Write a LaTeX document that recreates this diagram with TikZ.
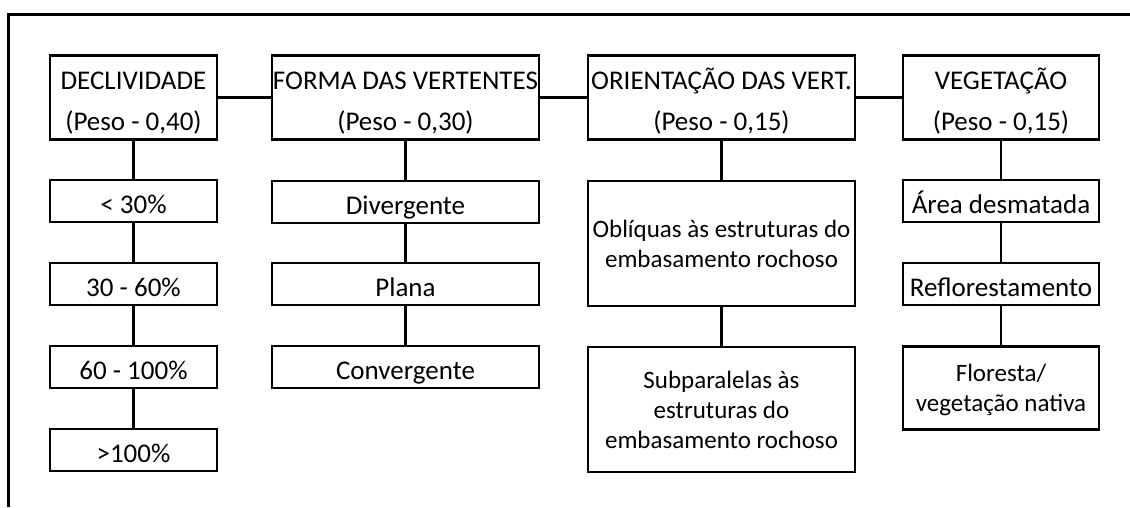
\documentclass[tikz,border=0pt]{standalone}
\usepackage{fontspec}
\setmainfont{Carlito}
\usetikzlibrary{positioning}

\begin{document}
\begin{tikzpicture}[x=1pt, y=-1pt,
  caixa/.style={draw, line width=2.2pt, align=center, inner sep=0pt,
                text height=26pt, text depth=2pt,
                font=\fontsize{27}{41}\selectfont},
  titulo/.style={caixa, minimum height=84pt, text height=67pt},
  item/.style={caixa, minimum height=42pt},
  itemalto/.style={caixa, text height=50pt, text depth=3pt,
                   font=\fontsize{25}{30}\selectfont},
  fio/.style={line width=2.2pt}]
  \useasboundingbox (0,0) rectangle (1130,507);

  %% Moldura
  \draw[line width=3pt] (8,507) -- (8,14) -- (1130,14);

  %% Criterios (linha de cima)
  \node[titulo, minimum width=167pt] (decl)  at (133.5,97.5) {DECLIVIDADE\\(Peso - 0,40)};
  \node[titulo, minimum width=267pt] (forma) at (405.5,97.5) {FORMA DAS VERTENTES\\(Peso - 0,30)};
  \node[titulo, minimum width=267pt] (orie)  at (721.5,97.5) {ORIENTAÇÃO DAS VERT.\\(Peso - 0,15)};
  \node[titulo, minimum width=196pt] (veget) at (1001,97.5) {VEGETAÇÃO\\(Peso - 0,15)};
  \draw[fio] (decl) -- (forma);
  \draw[fio] (forma) -- (orie);
  \draw[fio] (orie) -- (veget);

  %% Declividade
  \foreach \n/\y/\txt in {1/201/{< 30\%}, 2/284/{30 - 60\%}, 3/367/{60 - 100\%}, 4/450/{>100\%}}{
    \node[item, minimum width=167pt] (decl\n) at (133.5,\y) {\txt};
  }
  \draw[fio] (decl) -- (decl1) -- (decl2) -- (decl3) -- (decl4);

  %% Forma das vertentes
  \foreach \n/\y/\txt in {1/202/Divergente, 2/284/Plana, 3/367/Convergente}{
    \node[item, minimum width=267pt] (forma\n) at (405.5,\y) {\txt};
  }
  \draw[fio] (forma) -- (forma1) -- (forma2) -- (forma3);

  %% Orientacao das vertentes
  \node[itemalto, minimum width=267pt, minimum height=125pt] (orie1) at (721.5,243.5)
    {Oblíquas às estruturas do\\embasamento rochoso};
  \node[itemalto, minimum width=267pt, minimum height=125pt, text height=80pt] (orie2) at (721.5,409.5)
    {Subparalelas às\\estruturas do\\embasamento rochoso};
  \draw[fio] (orie) -- (orie1) -- (orie2);

  %% Vegetacao
  \node[item, minimum width=196pt] (veget1) at (1001,201) {Área desmatada};
  \node[item, minimum width=196pt] (veget2) at (1001,284) {Reflorestamento};
  \node[itemalto, minimum width=196pt, minimum height=83pt] (veget3) at (1001,388)
    {Floresta/\\vegetação nativa};
  \draw[fio] (veget) -- (veget1) -- (veget2) -- (veget3);
\end{tikzpicture}
\end{document}
